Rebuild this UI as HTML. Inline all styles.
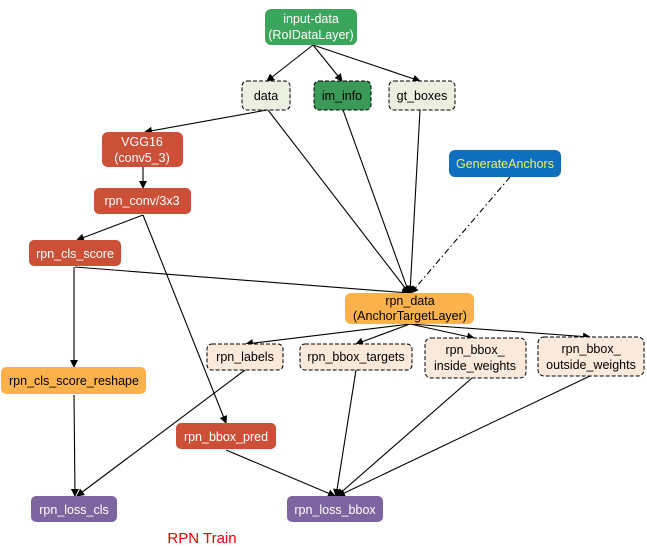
<!DOCTYPE html>
<html><head><meta charset="utf-8"><style>
html,body{margin:0;padding:0;background:#fff;}
svg{display:block;font-family:"Liberation Sans",Calibri,sans-serif;}
</style></head><body>
<svg width="647" height="547" viewBox="0 0 647 547" xmlns="http://www.w3.org/2000/svg">
<defs>
<marker id="a" markerWidth="8" markerHeight="8" refX="7" refY="4" orient="auto" markerUnits="userSpaceOnUse">
<path d="M0,0 L8,4 L0,8 z" fill="#000"/></marker>
</defs>
<g stroke="#000" stroke-width="1.1" fill="none" marker-end="url(#a)">
<line x1="313" y1="45" x2="267" y2="81"/>
<line x1="313" y1="45" x2="342" y2="81"/>
<line x1="313" y1="45" x2="420" y2="81"/>
<line x1="267" y1="110" x2="145" y2="132"/>
<line x1="268" y1="110" x2="409" y2="293"/>
<line x1="343" y1="110" x2="409" y2="293"/>
<line x1="420" y1="110" x2="410" y2="293"/>
<line x1="510" y1="177" x2="411" y2="293" stroke-dasharray="6,3,1.5,3"/>
<line x1="143" y1="167" x2="143" y2="188"/>
<line x1="143" y1="215" x2="77" y2="240"/>
<line x1="143" y1="215" x2="226" y2="423"/>
<line x1="75" y1="267" x2="409" y2="293"/>
<line x1="74" y1="267" x2="74" y2="367"/>
<line x1="74" y1="395" x2="75" y2="496"/>
<line x1="245" y1="370" x2="77" y2="496"/>
<line x1="410" y1="324" x2="246" y2="344"/>
<line x1="410" y1="324" x2="356" y2="344"/>
<line x1="410" y1="324" x2="474" y2="338"/>
<line x1="410" y1="324" x2="590" y2="337"/>
<line x1="226" y1="450" x2="335" y2="496"/>
<line x1="356" y1="370" x2="336" y2="496"/>
<line x1="472" y1="378" x2="337" y2="496"/>
<line x1="590" y1="376" x2="338" y2="496"/>
</g>
<g font-size="12.5" text-anchor="middle">
<rect x="265" y="9" width="92" height="36" rx="6" fill="#3ca55c"/>
<text x="311" y="23" fill="#fff">input-data</text><text x="311" y="39" fill="#fff">(RoIDataLayer)</text>

<rect x="242" y="81" width="48" height="29" rx="5" fill="#eaefe0" stroke="#000" stroke-dasharray="4,2"/>
<text x="266" y="100">data</text>
<rect x="314" y="81" width="57" height="29" rx="5" fill="#3b9a57" stroke="#000" stroke-dasharray="4,2"/>
<text x="342" y="100">im_info</text>
<rect x="389" y="81" width="66" height="29" rx="5" fill="#eaefe0" stroke="#000" stroke-dasharray="4,2"/>
<text x="422" y="100">gt_boxes</text>

<rect x="102" y="132" width="81" height="35" rx="6" fill="#cc5038"/>
<text x="142" y="146" fill="#fff">VGG16</text><text x="142" y="162" fill="#fff">(conv5_3)</text>
<rect x="94" y="188" width="97" height="26" rx="5" fill="#cc5038"/>
<text x="142" y="205" fill="#fff">rpn_conv/3x3</text>
<rect x="449" y="150" width="112" height="27" rx="6" fill="#0f6fbf"/>
<text x="505" y="168" fill="#f2f25c">GenerateAnchors</text>
<rect x="29" y="240" width="92" height="26" rx="5" fill="#cc5038"/>
<text x="75" y="258" fill="#fff">rpn_cls_score</text>

<rect x="345" y="293" width="129" height="31" rx="6" fill="#fbb24c"/>
<text x="410" y="305">rpn_data</text><text x="410" y="320">(AnchorTargetLayer)</text>

<g fill="#fbe9dc" stroke="#000" stroke-dasharray="4,2">
<rect x="207" y="344" width="76" height="26" rx="5"/>
<rect x="300" y="344" width="112" height="26" rx="5"/>
<rect x="425" y="338" width="101" height="40" rx="6"/>
<rect x="538" y="337" width="106" height="39" rx="6"/>
</g>
<text x="245" y="361">rpn_labels</text>
<text x="356" y="361">rpn_bbox_targets</text>
<text x="475" y="354">rpn_bbox_</text><text x="475" y="370">inside_weights</text>
<text x="591" y="353">rpn_bbox_</text><text x="591" y="369">outside_weights</text>

<rect x="1" y="367" width="145" height="27" rx="5" fill="#fbb24c"/>
<text x="74" y="385">rpn_cls_score_reshape</text>
<rect x="176" y="423" width="100" height="26" rx="5" fill="#cc5038"/>
<text x="226" y="441" fill="#fff">rpn_bbox_pred</text>
<rect x="31" y="496" width="86" height="26" rx="5" fill="#7d65a0"/>
<text x="74" y="514" fill="#fff">rpn_loss_cls</text>
<rect x="287" y="496" width="96" height="26" rx="5" fill="#7d65a0"/>
<text x="335" y="514" fill="#fff">rpn_loss_bbox</text>
<text x="202" y="543" fill="#e00" font-size="15">RPN Train</text>
</g>
</svg>
</body></html>
